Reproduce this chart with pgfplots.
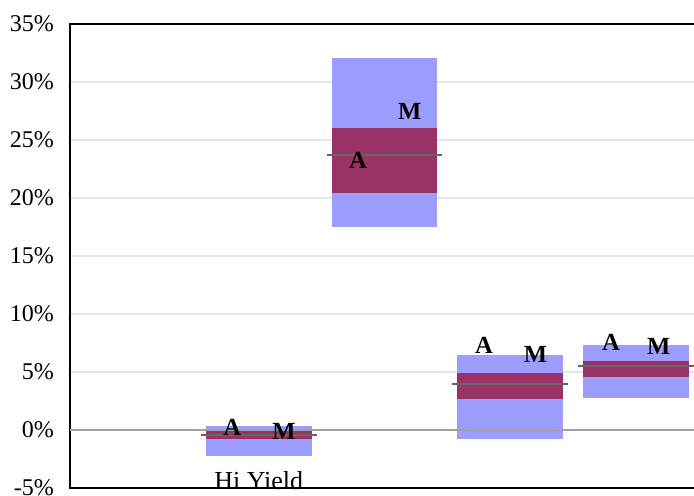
\documentclass[border=0pt]{standalone}
\usepackage{pgfplots}
\pgfplotsset{compat=1.18}
\usepackage{fontspec}
\setmainfont{Liberation Serif}
\definecolor{rangeblue}{HTML}{9D9DFF}
\definecolor{iqred}{HTML}{993366}
\definecolor{medgray}{HTML}{666666}
\definecolor{gridgray}{HTML}{E6E6E6}
\definecolor{zerogray}{HTML}{A0A0A0}
\begin{document}
\begin{tikzpicture}
\begin{axis}[
  width=314.5pt, height=232pt, scale only axis,
  xmin=-0.5, xmax=4.5,
  ymin=-5, ymax=35,
  ytick={-5,0,5,10,15,20,25,30,35},
  yticklabel={\pgfmathprintnumber{\tick}\%},
  /pgf/number format/assume math mode=true,
  xtick={1}, xticklabels={Hi Yield},
  major tick length=0pt,
  ymajorgrids, grid style={draw=gridgray, line width=0.8pt},
  axis line style={line width=1.2pt, black},
  font=\fontsize{12}{14}\selectfont,
  xticklabel style={anchor=base, yshift=-1pt, inner sep=0pt, font=\fontsize{13}{15}\selectfont},
  yticklabel style={xshift=-4.5pt},
]
\coordinate (bl) at (rel axis cs:0,0);
\coordinate (tl) at (rel axis cs:0,1);
% full ranges
\addplot[fill=rangeblue, draw=none] coordinates {(0.58,-2.2) (1.42,-2.2) (1.42,0.34) (0.58,0.34)};
\addplot[fill=rangeblue, draw=none] coordinates {(1.58,17.5) (2.42,17.5) (2.42,32.07) (1.58,32.07)};
\addplot[fill=rangeblue, draw=none] coordinates {(2.58,-0.8) (3.42,-0.8) (3.42,6.47) (2.58,6.47)};
\addplot[fill=rangeblue, draw=none] coordinates {(3.58,2.79) (4.42,2.79) (4.42,7.33) (3.58,7.33)};
% inner ranges
\addplot[fill=iqred, draw=none] coordinates {(0.58,-0.8) (1.42,-0.8) (1.42,-0.05) (0.58,-0.05)};
\addplot[fill=iqred, draw=none] coordinates {(1.58,20.46) (2.42,20.46) (2.42,26.0) (1.58,26.0)};
\addplot[fill=iqred, draw=none] coordinates {(2.58,2.67) (3.42,2.67) (3.42,4.9) (2.58,4.9)};
\addplot[fill=iqred, draw=none] coordinates {(3.58,4.6) (4.42,4.6) (4.42,5.95) (3.58,5.95)};
% zero line
\addplot[zerogray, line width=1pt] coordinates {(-0.5,0) (4.5,0)};
% medians
\addplot[draw=none, mark=none, error bars/.cd, x dir=both, x fixed=0.46, error mark=none,
  error bar style={medgray, line width=1pt}] coordinates {(1,-0.43) (2,23.68) (3,3.97) (4,5.49)};
% labels
\addplot[draw=none, mark=none, nodes near coords={\textbf{A}},
  every node near coord/.append style={anchor=center, inner sep=0pt, font=\fontsize{12.3}{14}\selectfont}]
  coordinates {(0.79,0.2) (1.79,23.2) (2.79,7.27) (3.8,7.54)};
\addplot[draw=none, mark=none, nodes near coords={\textbf{M}},
  every node near coord/.append style={anchor=center, inner sep=0pt, font=\fontsize{12.3}{14}\selectfont}]
  coordinates {(1.2,-0.1) (2.2,27.46) (3.2,6.47) (4.18,7.16)};
\end{axis}
\pgfresetboundingbox
\path[use as bounding box] ([shift={(-35pt,-4pt)}]bl) rectangle ([shift={(312pt,12pt)}]tl);
\end{tikzpicture}
\end{document}
